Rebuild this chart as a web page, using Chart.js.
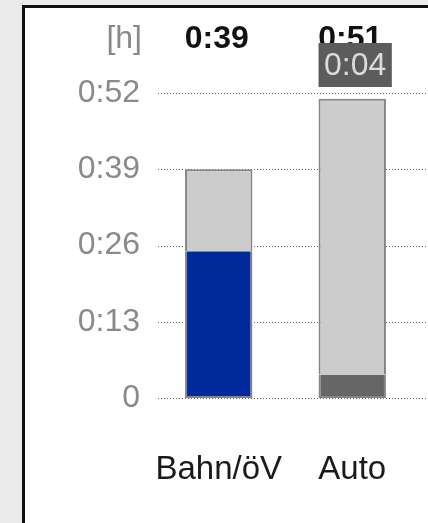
<!DOCTYPE html>
<html>
<head>
<meta charset="utf-8">
<script src="https://cdn.jsdelivr.net/npm/chart.js@4/dist/chart.umd.min.js"></script>
<style>
  html, body { margin: 0; padding: 0; background: #ebebeb; overflow: hidden; }
  #panel {
    position: absolute; left: 22px; top: 5px; width: 500px; height: 600px;
    background: #fff; border-left: 3px solid #111; border-top: 3px solid #111;
  }
  #wrap { position: absolute; left: 0; top: 0; width: 428px; height: 523px; }
</style>
</head>
<body>
<div id="panel"></div>
<div id="wrap"><canvas id="reise" width="428" height="523"></canvas></div>
<script>
// minutes per mode
const modes = ["Bahn/öV", "Auto"];
const fahrzeit = [25, 4];      // lower segment
const rest = [14, 47];         // upper segment
const lowerColors = ["#00299a", "#666666"];
const yTicks = [0, 13, 26, 39, 52];
const boxedBars = [1];         // bars whose lower segment gets a value box

const FONT = "'Liberation Sans', Arial, sans-serif";

const fmt = (m) => {
  if (m === 0) return "0";
  const h = Math.floor(m / 60);
  const mm = m % 60;
  return h + ":" + String(mm).padStart(2, "0");
};

// dotted horizontal lines at every y tick
const dottedGrid = {
  id: "dottedGrid",
  beforeDatasetsDraw(chart) {
    const y = chart.scales.y;
    const ctx = chart.ctx;
    ctx.save();
    ctx.strokeStyle = "#6a6a6a";
    ctx.lineWidth = 1;
    ctx.setLineDash([1, 2]);
    y.ticks.forEach((t) => {
      const py = Math.round(y.getPixelForValue(t.value)) + 0.5;
      ctx.beginPath();
      ctx.moveTo(y.right + 6, py);
      ctx.lineTo(chart.width, py);
      ctx.stroke();
    });
    ctx.restore();
  },
};

// totals over the bars, unit label and boxed segment value
const topLabels = {
  id: "topLabels",
  afterDatasetsDraw(chart) {
    const ctx = chart.ctx;
    const y = chart.scales.y;
    const meta = chart.getDatasetMeta(0);
    ctx.save();
    ctx.textBaseline = "middle";

    ctx.font = "32px " + FONT;
    ctx.fillStyle = "#8a8a8a";
    ctx.textAlign = "right";
    ctx.fillText("[h]", y.right - 10, 39);

    ctx.font = "bold 32px " + FONT;
    ctx.fillStyle = "#111";
    ctx.textAlign = "center";
    modes.forEach((m, i) => {
      const bar = meta.data[i];
      ctx.fillText(fmt(fahrzeit[i] + rest[i]), bar.x - 2, 39);
    });

    ctx.font = "32px " + FONT;
    boxedBars.forEach((i) => {
      const bar = meta.data[i];
      const txt = fmt(fahrzeit[i]);
      const w = ctx.measureText(txt).width + 11;
      const left = bar.x - bar.width / 2;
      ctx.fillStyle = "#5c5c5c";
      ctx.fillRect(left, 43, w, 44);
      ctx.fillStyle = "#dcdcdc";
      ctx.textAlign = "center";
      ctx.fillText(txt, left + w / 2, 66);
    });
    ctx.restore();
  },
};

new Chart(document.getElementById("reise"), {
  type: "bar",
  data: {
    labels: modes,
    datasets: [
      {
        label: "Fahrzeit",
        data: fahrzeit,
        backgroundColor: lowerColors,
        borderColor: "#858585",
        borderWidth: 2,
        borderSkipped: "top",
      },
      {
        label: "Rest",
        data: rest,
        backgroundColor: "#cccccc",
        borderColor: "#858585",
        borderWidth: 2,
        borderSkipped: "bottom",
      },
    ],
  },
  options: {
    responsive: false,
    devicePixelRatio: 1,
    animation: false,
    layout: { padding: { top: 93, right: 9, bottom: 35, left: 0 } },
    plugins: { legend: { display: false }, tooltip: { enabled: false } },
    datasets: { bar: { barPercentage: 0.505, categoryPercentage: 1 } },
    scales: {
      x: {
        stacked: true,
        grid: { display: false, drawTicks: false },
        border: { display: false },
        afterFit: (s) => { s.height = 90; s.paddingLeft = 0; s.paddingRight = 0; },
        ticks: {
          color: "#1a1a1a",
          font: { family: FONT, size: 33 },
          padding: 52,
          maxRotation: 0,
          minRotation: 0,
          autoSkip: false,
        },
      },
      y: {
        stacked: true,
        min: 0,
        max: 52,
        afterBuildTicks: (s) => { s.ticks = yTicks.map((v) => ({ value: v })); },
        afterFit: (s) => { s.width = 152; },
        grid: { display: false, drawTicks: false },
        border: { display: false },
        ticks: {
          color: "#8a8a8a",
          font: { family: FONT, size: 32 },
          padding: 12,
          callback: (v) => fmt(v),
        },
      },
    },
  },
  plugins: [dottedGrid, topLabels],
});
</script>
</body>
</html>
